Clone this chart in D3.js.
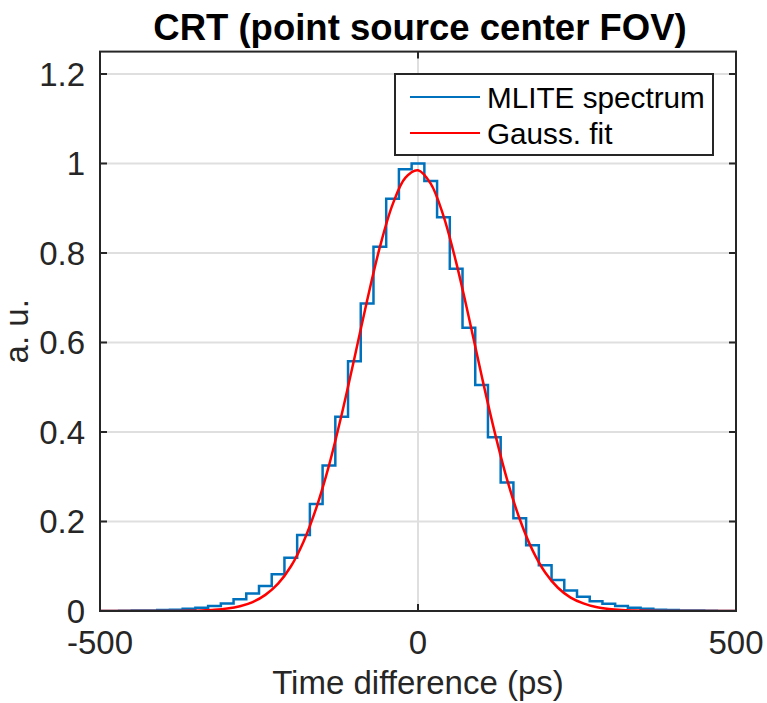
<!DOCTYPE html>
<html>
<head>
<meta charset="utf-8">
<script src="https://cdn.jsdelivr.net/npm/d3@7"></script>
<style>
  html, body { margin: 0; padding: 0; background: #fff; }
  svg { display: block; font-family: "Liberation Sans", Arial, Helvetica, sans-serif; }
</style>
</head>
<body>
<svg id="chart" width="767" height="703"></svg>
<script>
// ---- data ----
const binCenters = [-500,-480,-460,-440,-420,-400,-380,-360,-340,-320,-300,-280,-260,-240,-220,-200,-180,-160,-140,-120,-100,-80,-60,-40,-20,0,20,40,60,80,100,120,140,160,180,200,220,240,260,280,300,320,340,360,380,400,420,440,460,480,500];
const spectrumValues = [0,0,0.0005,0.001,0.001,0.002,0.003,0.005,0.007,0.011,0.017,0.026,0.039,0.056,0.082,0.119,0.170,0.239,0.325,0.434,0.558,0.687,0.814,0.921,0.987,1.0,0.961,0.880,0.765,0.633,0.505,0.388,0.287,0.207,0.147,0.102,0.069,0.046,0.032,0.022,0.016,0.011,0.007,0.005,0.003,0.002,0.001,0.001,0.0005,0,0];
const binWidth = 20;
const fitX = [-500,-480,-460,-440,-420,-400,-380,-360,-340,-320,-300,-280,-260,-240,-220,-200,-180,-160,-140,-120,-100,-80,-60,-40,-20,0,20,40,60,80,100,120,140,160,180,200,220,240,260,280,300,320,340,360,380,400,420,440,460,480,500];
const fitValues = [0,0,0,0,0,0,0.0002,0.0005,0.0012,0.0026,0.0054,0.0107,0.020,0.036,0.061,0.0995,0.155,0.230,0.325,0.439,0.565,0.694,0.813,0.908,0.968,0.985,0.955,0.883,0.779,0.656,0.526,0.403,0.294,0.205,0.136,0.086,0.052,0.030,0.017,0.0088,0.0044,0.002,0.001,0.0004,0.0001,0,0,0,0,0,0];
const xTicks = [-500, 0, 500];
const yTicks = [0, 0.2, 0.4, 0.6, 0.8, 1.0, 1.2];
const seriesNames = ["MLITE spectrum", "Gauss. fit"];
const seriesColors = ["#0072BD", "#FF0000"];

// ---- layout ----
const svg = d3.select("#chart");
const L = 100, R = 736, T = 51.6, B = 611;
const x = d3.scaleLinear().domain([-500, 500]).range([L, R]);
const y = d3.scaleLinear().domain([0, 1.25]).range([B, T]);
const axisColor = "#262626";
const gridColor = "#dfdfdf";

svg.append("defs").append("clipPath").attr("id", "clip")
  .append("rect").attr("x", L).attr("y", T).attr("width", R - L).attr("height", B - T);

// grid
const grid = svg.append("g");
grid.selectAll(".gy").data(yTicks).join("line")
  .attr("x1", L).attr("x2", R).attr("y1", d => y(d)).attr("y2", d => y(d))
  .attr("stroke", gridColor).attr("stroke-width", 2);
grid.selectAll(".gx").data(xTicks).join("line")
  .attr("x1", d => x(d)).attr("x2", d => x(d)).attr("y1", T).attr("y2", B)
  .attr("stroke", gridColor).attr("stroke-width", 2);

// stairs path
const stairPts = [];
binCenters.forEach((c, i) => {
  stairPts.push([c - binWidth / 2, spectrumValues[i]]);
  stairPts.push([c + binWidth / 2, spectrumValues[i]]);
});
const lineGen = d3.line().x(d => x(d[0])).y(d => y(d[1]));
const plot = svg.append("g").attr("clip-path", "url(#clip)");
plot.append("path").datum(stairPts).attr("d", lineGen)
  .attr("fill", "none").attr("stroke", seriesColors[0]).attr("stroke-width", 2.5)
  .attr("stroke-linejoin", "miter");

// fit curve
const fitPts = fitX.map((v, i) => [v, fitValues[i]]);
plot.append("path").datum(fitPts)
  .attr("d", d3.line().x(d => x(d[0])).y(d => y(d[1])).curve(d3.curveCatmullRom))
  .attr("fill", "none").attr("stroke", seriesColors[1]).attr("stroke-width", 2.5);

// axes box
const ax = svg.append("g");
ax.append("rect").attr("x", L).attr("y", T).attr("width", R - L).attr("height", B - T)
  .attr("fill", "none").attr("stroke", axisColor).attr("stroke-width", 2);

const tickLen = 7;
// y ticks left/right
ax.selectAll(".tyl").data(yTicks).join("line")
  .attr("x1", L).attr("x2", L + tickLen).attr("y1", d => y(d)).attr("y2", d => y(d))
  .attr("stroke", axisColor).attr("stroke-width", 2);
ax.selectAll(".tyr").data(yTicks).join("line")
  .attr("x1", R).attr("x2", R - tickLen).attr("y1", d => y(d)).attr("y2", d => y(d))
  .attr("stroke", axisColor).attr("stroke-width", 2);
// x ticks bottom/top
ax.selectAll(".txb").data(xTicks).join("line")
  .attr("x1", d => x(d)).attr("x2", d => x(d)).attr("y1", B).attr("y2", B - tickLen)
  .attr("stroke", axisColor).attr("stroke-width", 2);
ax.selectAll(".txt").data(xTicks).join("line")
  .attr("x1", d => x(d)).attr("x2", d => x(d)).attr("y1", T).attr("y2", T + tickLen)
  .attr("stroke", axisColor).attr("stroke-width", 2);

// tick labels
const fmtY = d => (d === 0 ? "0" : (d === 1 ? "1" : d3.format(".1f")(d)));
svg.selectAll(".yl").data(yTicks).join("text")
  .attr("x", L - 15).attr("y", d => y(d) + 12)
  .attr("text-anchor", "end").attr("font-size", 33).attr("fill", axisColor)
  .text(fmtY);
svg.selectAll(".xl").data(xTicks).join("text")
  .attr("x", d => x(d)).attr("y", 654)
  .attr("text-anchor", "middle").attr("font-size", 33).attr("fill", axisColor)
  .text(d => d);

// axis labels
svg.append("text").attr("x", (L + R) / 2).attr("y", 694)
  .attr("text-anchor", "middle").attr("font-size", 33).attr("fill", axisColor)
  .text("Time difference (ps)");
svg.append("text").attr("transform", `translate(28,${(T + B) / 2}) rotate(-90)`)
  .attr("text-anchor", "middle").attr("font-size", 33).attr("fill", axisColor)
  .text("a. u.");

// title
svg.append("text").attr("x", (L + R) / 2 + 2).attr("y", 40)
  .attr("text-anchor", "middle").attr("font-size", 36.5).attr("font-weight", "bold")
  .attr("fill", "#000").text("CRT (point source center FOV)");

// legend
const lg = svg.append("g");
lg.append("rect").attr("x", 395).attr("y", 74).attr("width", 318).attr("height", 81)
  .attr("fill", "#fff").attr("stroke", axisColor).attr("stroke-width", 2);
seriesNames.forEach((name, i) => {
  const cy = 97 + i * 36;
  lg.append("line").attr("x1", 410).attr("x2", 480).attr("y1", cy).attr("y2", cy)
    .attr("stroke", seriesColors[i]).attr("stroke-width", 2);
  lg.append("text").attr("x", 487).attr("y", cy + 10.5)
    .attr("font-size", 29.7).attr("fill", "#000").text(name);
});
</script>
</body>
</html>
